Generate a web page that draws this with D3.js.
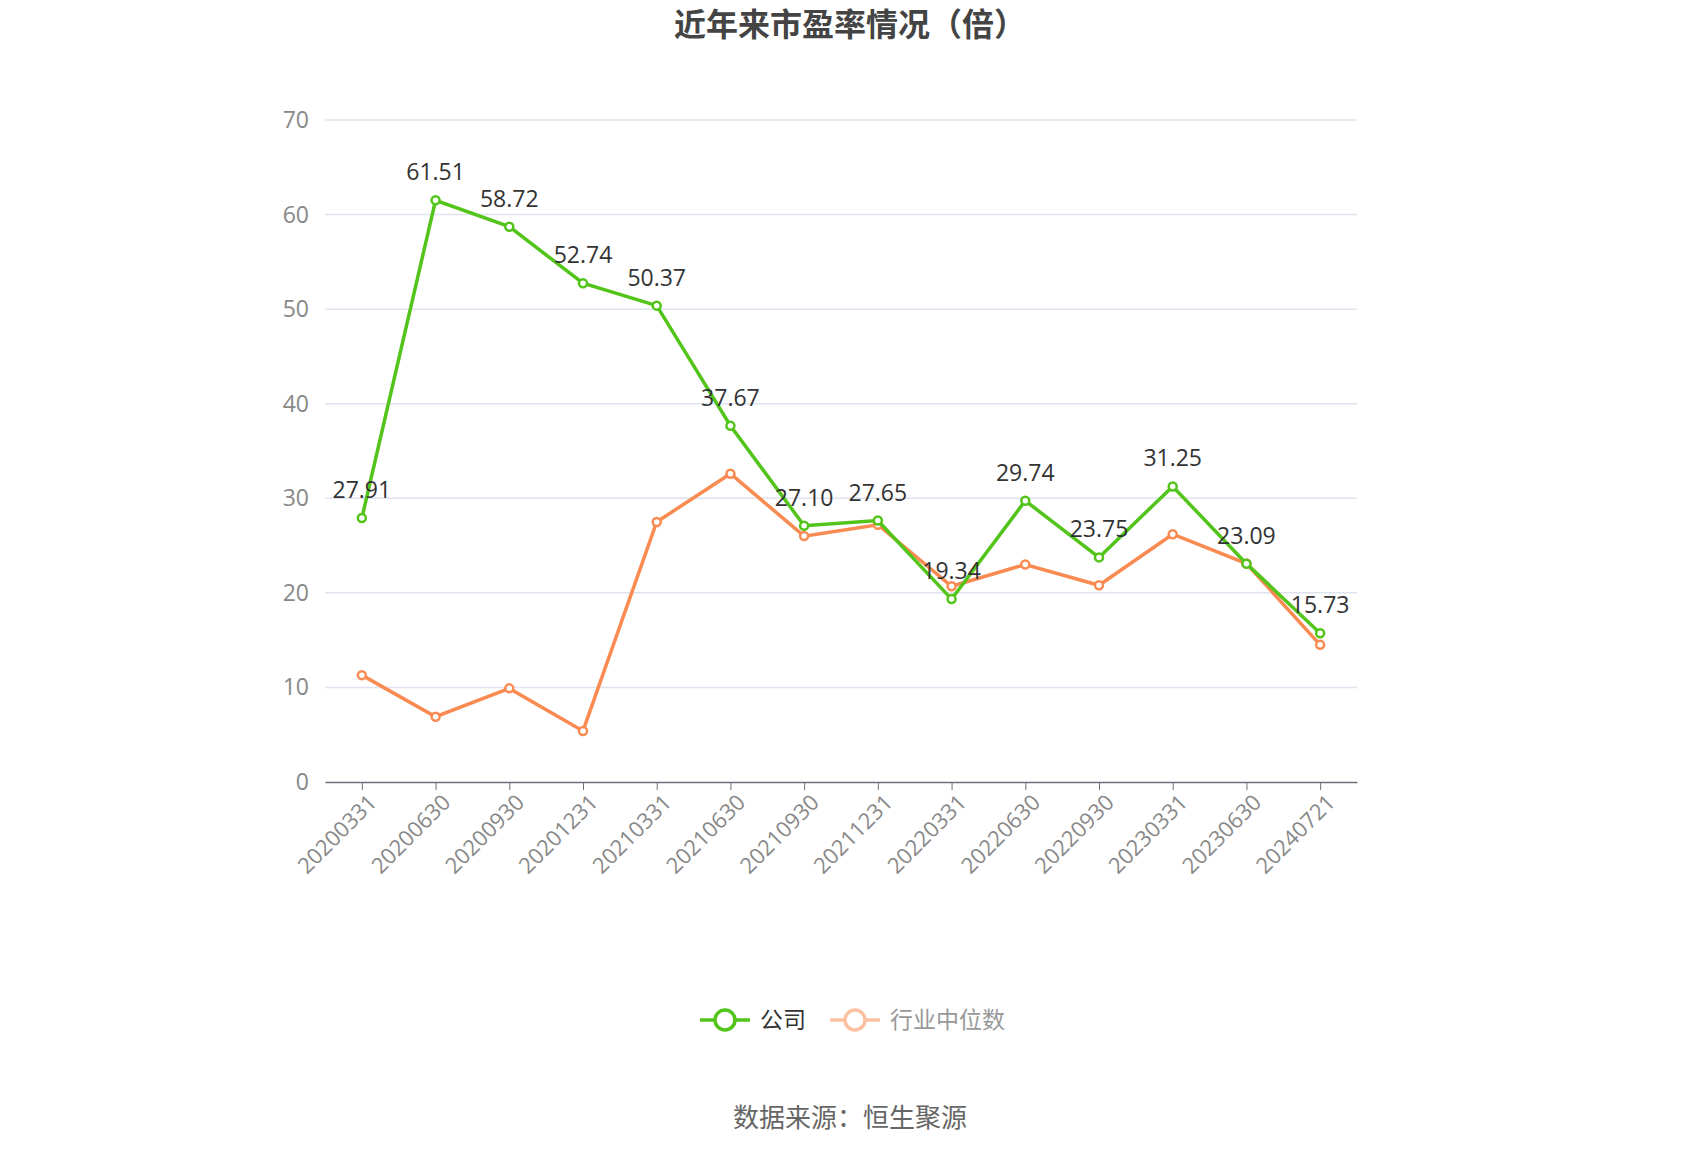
<!DOCTYPE html>
<html><head><meta charset="utf-8">
<script src="https://cdn.jsdelivr.net/npm/d3@7"></script>
<style>body{margin:0;background:#fff;font-family:"Open Sans","Noto Sans CJK SC",sans-serif}</style>
</head><body>
<script>
const dates = ['20200331','20200630','20200930','20201231','20210331','20210630','20210930','20211231','20220331','20220630','20220930','20230331','20230630','20240721']
const company = [27.91,61.51,58.72,52.74,50.37,37.67,27.10,27.65,19.34,29.74,23.75,31.25,23.09,15.73]
const industry = [11.3,6.9,9.9,5.4,27.5,32.6,26.0,27.2,20.7,23.0,20.8,26.2,23.1,14.5]
const yTicks = [0,10,20,30,40,50,60,70]

const W = 1700, H = 1150
const m = {l:325, r:1357, t:120, b:782}
const svg = d3.select('body').append('svg').attr('width', W).attr('height', H)

const x = d3.scalePoint().domain(dates).range([m.l, m.r]).padding(0.5)
const y = d3.scaleLinear().domain([0,70]).range([m.b, m.t])

svg.append('text').text('近年来市盈率情况（倍）')
  .attr('x', W/2).attr('y', 36).attr('text-anchor','middle')
  .attr('font-size', 32).attr('font-weight','bold').attr('fill','#444')

// grid
svg.selectAll('.grid').data(yTicks.slice(1)).join('line')
  .attr('x1', m.l).attr('x2', m.r).attr('y1', d => y(d)).attr('y2', d => y(d))
  .attr('stroke', '#e0e3ef').attr('stroke-width', 1.5)

svg.selectAll('.ylab').data(yTicks).join('text')
  .text(d => d).attr('x', m.l - 16).attr('y', d => y(d) + 8)
  .attr('text-anchor','end').attr('font-size', 23).attr('fill','#888')

const xa = svg.append('g').attr('transform', `translate(0,${m.b})`)
  .call(d3.axisBottom(x).tickSize(8).tickSizeOuter(0))
xa.select('.domain').attr('stroke','#6e7079').attr('stroke-width',1.5)
xa.selectAll('line').attr('stroke','#6e7079')
xa.selectAll('text').attr('font-size', 22).attr('fill','#888')
  .attr('font-family','"Open Sans",sans-serif')
  .attr('text-anchor','end').attr('dx', 0).attr('dy', 0)
  .attr('transform','translate(8,14) rotate(-45)')

const line = d3.line().x((d,i) => x(dates[i])).y(d => y(d))

function series(data, color) {
  svg.append('path').attr('d', line(data)).attr('fill','none')
    .attr('stroke', color).attr('stroke-width', 3.5)
  svg.append('g').selectAll('circle').data(data).join('circle')
    .attr('cx', (d,i) => x(dates[i])).attr('cy', d => y(d)).attr('r', 4)
    .attr('fill','#fff').attr('stroke', color).attr('stroke-width', 2.5)
}
series(industry, '#f98a51')
series(company, '#52c41a')

svg.selectAll('.vlab').data(company).join('text')
  .text(d => d.toFixed(2))
  .attr('x', (d,i) => x(dates[i])).attr('y', d => y(d) - 20)
  .attr('text-anchor','middle').attr('font-size', 23).attr('fill','#333')

// legend
const lg = svg.append('g').attr('transform','translate(700,1020)')
lg.append('line').attr('x1',0).attr('x2',50).attr('stroke','#52c41a').attr('stroke-width',3.5)
lg.append('circle').attr('cx',25).attr('r',10).attr('fill','#fff').attr('stroke','#52c41a').attr('stroke-width',3.5)
lg.append('text').text('公司').attr('x',60).attr('y',8).attr('font-size',23).attr('fill','#333')
lg.append('line').attr('x1',130).attr('x2',180).attr('stroke','#fcc0a2').attr('stroke-width',3.5)
lg.append('circle').attr('cx',155).attr('r',10).attr('fill','#fff').attr('stroke','#fcc0a2').attr('stroke-width',3.5)
lg.append('text').text('行业中位数').attr('x',190).attr('y',8).attr('font-size',23).attr('fill','#999')

svg.append('text').text('数据来源：恒生聚源').attr('x', W/2).attr('y', 1127)
  .attr('text-anchor','middle').attr('font-size',26).attr('fill','#666')
</script>
</body></html>
